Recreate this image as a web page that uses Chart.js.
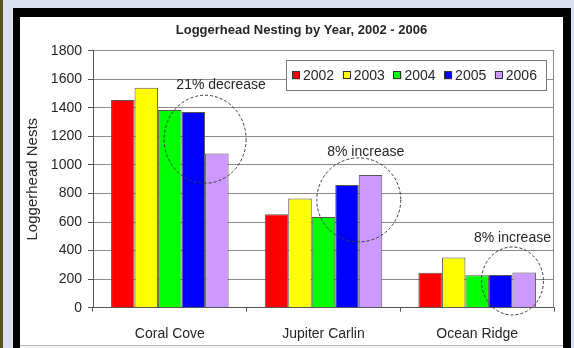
<!DOCTYPE html>
<html>
<head>
<meta charset="utf-8">
<script src="https://cdn.jsdelivr.net/npm/chart.js@4/dist/chart.umd.min.js"></script>
<style>
  html, body { margin: 0; padding: 0; }
  body { width: 574px; height: 348px; overflow: hidden; background: #dcdef1; position: relative; }
  #strip { position: absolute; left: 0; top: 0; width: 3px; height: 348px; background: #56531f; }
  #frame { position: absolute; left: 13px; top: 8px; width: 558px; height: 360px; background: #000; }
  #panel { position: absolute; left: 20px; top: 17px; width: 543px; height: 328px; background: #fff; border-bottom: 1px solid #b4b4b4; }
  #foot { position: absolute; left: 20px; top: 346px; width: 543px; height: 2px; background: #f2f2f2; }
  canvas { position: absolute; left: 0; top: 0; }
</style>
</head>
<body>
<div id="strip"></div>
<div id="frame"></div>
<div id="panel"></div>
<div id="foot"></div>
<canvas id="chart" width="574" height="348"></canvas>
<script>
// Nesting beaches and survey years
const categories = ['Coral Cove', 'Jupiter Carlin', 'Ocean Ridge'];
const years = ['2002', '2003', '2004', '2005', '2006'];

// Loggerhead nests per beach, one array per year
const nests2002 = [1455, 655, 245];
const nests2003 = [1540, 765, 352];
const nests2004 = [1385, 635, 228];
const nests2005 = [1370, 860, 229];
const nests2006 = [1080, 930, 247];

// Value axis
const yMin = 0;
const yMax = 1800;
const yStep = 200;

// Change notes (2005 -> 2006) circled on each beach
const noteTexts = ['21% decrease', '8% increase', '8% increase'];
const noteCenterValues = [1180, 755, 187];
const noteTextValues = [1560, 1090, 488];

const seriesValues = [nests2002, nests2003, nests2004, nests2005, nests2006];
const seriesColors = ['#ff0000', '#ffff00', '#00ff00', '#0000ff', '#cc99ff'];

const FONT = '"Liberation Sans", Arial, sans-serif';
const INK = '#262626';

Chart.defaults.font.family = FONT;
Chart.defaults.color = INK;

// Circle sizes (px) and label nudges for the notes
const noteRadii = [[41, 44], [42, 42], [31, 34]];
const noteShift = [16, 7, 0];

const decor = {
  id: 'decor',
  afterDatasetsDraw(chart) {
    const ctx = chart.ctx;
    const a = chart.chartArea;
    const y = chart.scales.y;

    // right edge of the plot frame
    ctx.save();
    ctx.strokeStyle = '#8a8a8a';
    ctx.lineWidth = 1;
    ctx.beginPath();
    ctx.moveTo(a.right - 0.5, a.top);
    ctx.lineTo(a.right - 0.5, a.bottom);
    ctx.stroke();

    // dashed circles around the 2005/2006 pair, with their notes
    const m5 = chart.getDatasetMeta(3);
    const m6 = chart.getDatasetMeta(4);
    categories.forEach((c, i) => {
      const b5 = m5.data[i], b6 = m6.data[i];
      const cx = (b5.x + b6.x) / 2;
      const cy = y.getPixelForValue(noteCenterValues[i]);
      ctx.setLineDash([3, 2]);
      ctx.strokeStyle = '#3a3a3a';
      ctx.lineWidth = 1;
      ctx.beginPath();
      ctx.ellipse(cx, cy, noteRadii[i][0], noteRadii[i][1], 0, 0, Math.PI * 2);
      ctx.stroke();
      ctx.setLineDash([]);
      ctx.fillStyle = INK;
      ctx.font = '14px ' + FONT;
      ctx.textAlign = 'center';
      ctx.textBaseline = 'middle';
      ctx.fillText(noteTexts[i], cx + noteShift[i], y.getPixelForValue(noteTextValues[i]));
    });
    ctx.restore();
  },
  afterDraw(chart) {
    const ctx = chart.ctx;
    const a = chart.chartArea;
    ctx.save();

    // chart title
    ctx.fillStyle = INK;
    ctx.font = 'bold 13px ' + FONT;
    ctx.textAlign = 'center';
    ctx.textBaseline = 'middle';
    ctx.fillText('Loggerhead Nesting by Year, 2002 - 2006', 301.5, 30);

    // legend box inside the plot, top right
    const w = 260, h = 30;
    const lx = a.right - 8 - w;
    const ly = a.top + 9.5;
    ctx.fillStyle = '#ffffff';
    ctx.fillRect(lx, ly, w, h);
    ctx.strokeStyle = '#7a7a7a';
    ctx.lineWidth = 1;
    ctx.strokeRect(Math.round(lx) + 0.5, Math.round(ly) + 0.5, w, h);
    ctx.font = '14px ' + FONT;
    ctx.textAlign = 'left';
    ctx.textBaseline = 'middle';
    chart.data.datasets.forEach((ds, i) => {
      const sx = lx + 6 + i * 50.7;
      const sy = ly + h / 2;
      ctx.fillStyle = ds.backgroundColor;
      ctx.fillRect(sx, sy - 4, 8, 8);
      ctx.strokeStyle = '#333';
      ctx.strokeRect(Math.round(sx) + 0.5, Math.round(sy - 4) + 0.5, 7, 7);
      ctx.fillStyle = INK;
      ctx.fillText(ds.label, sx + 11, sy + 0.5);
    });
    ctx.restore();
  }
};

new Chart(document.getElementById('chart'), {
  type: 'bar',
  data: {
    labels: categories,
    datasets: years.map((yr, i) => ({
      label: yr,
      data: seriesValues[i],
      backgroundColor: seriesColors[i],
      borderColor: '#555555',
      borderWidth: 1,
      categoryPercentage: 0.765,
      barPercentage: 1.0
    }))
  },
  options: {
    responsive: false,
    animation: false,
    layout: { padding: { left: 20, right: 20, top: 50.7, bottom: 0 } },
    plugins: {
      legend: { display: false },
      title: { display: false },
      tooltip: { enabled: false }
    },
    scales: {
      x: {
        grid: { display: true, drawOnChartArea: false, offset: true, tickLength: 4, tickColor: '#555' },
        border: { display: true, color: '#555', width: 1 },
        ticks: { font: { size: 14 }, color: INK, padding: 14 },
        afterFit(scale) { scale.height = 40.3; }
      },
      y: {
        min: yMin,
        max: yMax,
        ticks: { stepSize: yStep, font: { size: 14 }, color: INK, padding: 6, callback: (v) => String(v) },
        grid: { color: '#8a8a8a', lineWidth: 1, tickLength: 5, tickColor: '#555' },
        border: { display: true, color: '#555', width: 1 },
        title: { display: true, text: 'Loggerhead Nests', font: { size: 15 }, color: INK, padding: { top: 4, bottom: 0 } },
        afterFit(scale) { scale.width = 73; }
      }
    }
  },
  plugins: [decor]
});
</script>
</body>
</html>
